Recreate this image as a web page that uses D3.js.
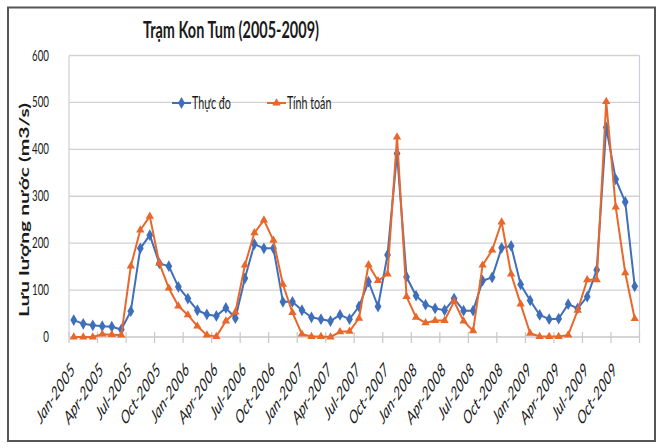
<!DOCTYPE html>
<html>
<head>
<meta charset="utf-8">
<script src="https://cdn.jsdelivr.net/npm/d3@7"></script>
<style>
  html, body { margin: 0; padding: 0; background: #ffffff; }
  svg { display: block; }
  text { font-family: Lato, "Open Sans", "DejaVu Sans", sans-serif; fill: #1a1a1a; }
</style>
</head>
<body>
<svg id="chart" width="661" height="448"></svg>
<script>
// ---- DATA ----
const title = "Trạm Kon Tum (2005-2009)";
const yAxisTitle = "Lưu lượng nước (m3/s)";
const seriesNames = ["Thực đo", "Tính toán"];
const startMonth = new Date(2005, 0, 1);
const endMonth = new Date(2010, 0, 1);
const months = d3.timeMonth.range(startMonth, endMonth); // 60 monthly categories
const thucDo = [
  36, 28, 25, 23, 22, 16, 55, 189, 217, 157, 151, 107,
  82, 57, 48, 45, 62, 40, 125, 198, 189, 189, 75, 75,
  57, 42, 38, 34, 47, 38, 65, 118, 65, 175, 391, 128,
  88, 69, 61, 57, 82, 56, 56, 120, 127, 190, 194, 112,
  78, 47, 38, 39, 70, 61, 86, 143, 447, 336, 288, 108
];
const tinhToan = [
  0, 0, 0, 6, 5, 4, 151, 228, 257, 157, 104, 66,
  47, 23, 4, 1, 34, 53, 153, 222, 249, 206, 112, 52,
  6, 1, 1, 0, 11, 12, 40, 154, 120, 134, 426, 86,
  42, 30, 35, 35, 76, 34, 13, 153, 185, 245, 134, 70,
  8, 1, 1, 1, 4, 57, 122, 122, 502, 277, 137, 39
];
const yTicks = [0, 100, 200, 300, 400, 500, 600];
const xTickLabels = [
  "Jan-2005", "Apr-2005", "Jul-2005", "Oct-2005",
  "Jan-2006", "Apr-2006", "Jul-2006", "Oct-2006",
  "Jan-2007", "Apr-2007", "Jul-2007", "Oct-2007",
  "Jan-2008", "Apr-2008", "Jul-2008", "Oct-2008",
  "Jan-2009", "Apr-2009", "Jul-2009", "Oct-2009"
];

// ---- LAYOUT ----
const colors = ["#3f6fba", "#e8672a"];
const plot = { left: 69, right: 639.5, top: 55.5, bottom: 337 };
const sx = 0.65; // horizontal text squeeze seen in the reference

const svg = d3.select("#chart");

// outer frame
svg.append("rect")
  .attr("x", 8).attr("y", 7.5).attr("width", 647).attr("height", 433.5)
  .attr("fill", "#ffffff").attr("stroke", "#555555").attr("stroke-width", 2);

const fmt = d3.timeFormat("%b-%Y");
const x = d3.scaleBand()
  .domain(months.map(fmt))
  .range([plot.left, plot.right])
  .paddingInner(0).paddingOuter(0);
const y = d3.scaleLinear().domain([0, 600]).range([plot.bottom, plot.top]);

// gridlines
svg.append("g").selectAll("line")
  .data(yTicks.filter(d => d > 0))
  .join("line")
  .attr("x1", plot.left).attr("x2", plot.right)
  .attr("y1", d => y(d)).attr("y2", d => y(d))
  .attr("stroke", "#d2d2d2").attr("stroke-width", 1.4);

// plot area side borders
svg.append("line").attr("x1", plot.left).attr("x2", plot.left)
  .attr("y1", plot.top).attr("y2", plot.bottom)
  .attr("stroke", "#c8d0dc").attr("stroke-width", 1.2);
svg.append("line").attr("x1", plot.right).attr("x2", plot.right)
  .attr("y1", plot.top).attr("y2", plot.bottom)
  .attr("stroke", "#c8d0dc").attr("stroke-width", 1.2);

// x axis line
svg.append("line").attr("x1", plot.left).attr("x2", plot.right)
  .attr("y1", plot.bottom).attr("y2", plot.bottom)
  .attr("stroke", "#c8c8c8").attr("stroke-width", 1.4);

// x tick marks (every 3 months, at band boundaries, plus the end)
const tickMonths = months.filter((d, i) => i % 3 === 0).map(fmt);
const tickXs = tickMonths.map(m => x(m)).concat([plot.right]);
svg.append("g").selectAll("line")
  .data(tickXs)
  .join("line")
  .attr("x1", d => d).attr("x2", d => d)
  .attr("y1", plot.bottom - 5).attr("y2", plot.bottom + 6)
  .attr("stroke", "#c8c8c8").attr("stroke-width", 1.2);

// x tick labels
svg.append("g").selectAll("text")
  .data(xTickLabels)
  .join("text")
  .attr("transform", d => `translate(${x(d) + x.bandwidth() / 2 + 2},${plot.bottom + 34}) scale(${sx},1) rotate(-45)`)
  .attr("text-anchor", "end")
  .attr("font-style", "italic")
  .attr("font-size", 18.5)
  .text(d => d);

// y tick labels
svg.append("g").selectAll("text")
  .data(yTicks)
  .join("text")
  .attr("transform", d => `translate(49,${y(d) + 5}) scale(${sx},1)`)
  .attr("text-anchor", "end")
  .attr("font-size", 15)
  .text(d => d);

// y axis title
svg.append("text")
  .attr("transform", `translate(28.5,210) scale(${sx},1) rotate(-90)`)
  .attr("text-anchor", "middle")
  .attr("font-weight", "bold")
  .attr("font-size", 21)
  .text(yAxisTitle);

// title
svg.append("text")
  .attr("x", 143).attr("y", 38)
  .attr("font-weight", "bold")
  .attr("font-size", 22)
  .attr("textLength", 176)
  .attr("lengthAdjust", "spacingAndGlyphs")
  .text(title);

// series
const seriesData = [thucDo, tinhToan];
const symbols = [d3.symbolDiamond, d3.symbolTriangle];
const symSizes = [40, 30];
const line = d3.line()
  .x((d, i) => x(fmt(months[i])) + x.bandwidth() / 2)
  .y(d => y(d));

seriesData.forEach((vals, s) => {
  const g = svg.append("g");
  g.append("path")
    .datum(vals)
    .attr("d", line)
    .attr("fill", "none")
    .attr("stroke", colors[s])
    .attr("stroke-width", 2)
    .attr("stroke-linejoin", "round");
  g.selectAll("path.m")
    .data(vals)
    .join("path")
    .attr("class", "m")
    .attr("transform", (d, i) => `translate(${x(fmt(months[i])) + x.bandwidth() / 2},${y(d)})`)
    .attr("d", d3.symbol().type(symbols[s]).size(symSizes[s]))
    .attr("fill", colors[s]);
});

// legend
const legendItems = [
  { x: 172, textX: 192 },
  { x: 267, textX: 287 }
];
seriesNames.forEach((name, s) => {
  const it = legendItems[s];
  const g = svg.append("g");
  g.append("line")
    .attr("x1", it.x).attr("x2", it.x + 19)
    .attr("y1", 103).attr("y2", 103)
    .attr("stroke", colors[s]).attr("stroke-width", 2);
  g.append("path")
    .attr("transform", `translate(${it.x + 9.5},103)`)
    .attr("d", d3.symbol().type(symbols[s]).size(symSizes[s]))
    .attr("fill", colors[s]);
  g.append("text")
    .attr("transform", `translate(${it.textX},109) scale(${sx},1)`)
    .attr("font-size", 16.5)
    .text(name);
});
</script>
</body>
</html>
